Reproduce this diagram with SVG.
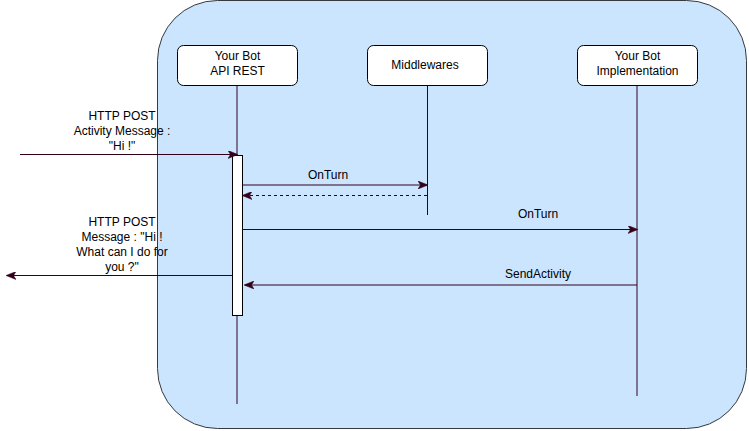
<svg xmlns="http://www.w3.org/2000/svg" width="749" height="431" viewBox="0 0 749 431">
<defs>
<style>
text{font-family:"Liberation Sans",Arial,sans-serif;font-size:12px;fill:#000;text-anchor:middle}
.node{fill:#fff;stroke:#000;stroke-width:1}
.life{stroke:#33001A;stroke-width:1;fill:none}
.msg{stroke:#33001A;stroke-width:1;fill:none}
.dash{stroke-dasharray:3 3}
</style>
<marker id="ah" viewBox="0 0 10 8" refX="9" refY="4" markerWidth="10" markerHeight="8" markerUnits="userSpaceOnUse" orient="auto">
<path d="M0,0 L10,4 L0,8 L2.5,4 Z" fill="#33001A" stroke="#33001A" stroke-width="0.5"/>
</marker>
</defs>
<rect id="container" x="157.5" y="0.5" width="589" height="428" rx="60" ry="60" fill="#cce5ff" stroke="#36393d" stroke-width="1"/>
<g id="lifelines">
<line class="life" x1="237" y1="85" x2="237" y2="404"/>
<line class="life" x1="427.5" y1="85" x2="427.5" y2="215"/>
<line class="life" x1="637" y1="85" x2="637" y2="396"/>
</g>
<g id="node-api">
<rect class="node" x="177.5" y="45.5" width="120" height="40" rx="6" ry="6"/>
<text x="237.5" y="60">Your Bot</text>
<text x="237.5" y="75">API REST</text>
</g>
<g id="node-middlewares">
<rect class="node" x="367.5" y="45.5" width="120" height="40" rx="6" ry="6"/>
<text x="425" y="69">Middlewares</text>
</g>
<g id="node-impl">
<rect class="node" x="577.5" y="45.5" width="120" height="40" rx="6" ry="6"/>
<text x="637.5" y="60">Your Bot</text>
<text x="637.5" y="75">Implementation</text>
</g>
<g id="activation">
<rect class="node" x="232.5" y="155.5" width="10" height="160"/>
</g>
<g id="connectors">
<line class="msg" x1="20" y1="154.5" x2="237" y2="154.5" marker-end="url(#ah)"/>
<line class="msg" x1="242.5" y1="185" x2="427" y2="185" marker-end="url(#ah)"/>
<line class="msg dash" x1="427" y1="195.5" x2="243" y2="195.5" marker-end="url(#ah)"/>
<line class="msg" x1="242.5" y1="229.5" x2="637" y2="229.5" marker-end="url(#ah)"/>
<line class="msg" x1="637" y1="285" x2="245" y2="285" marker-end="url(#ah)"/>
<line class="msg" x1="232" y1="275.5" x2="7" y2="275.5" marker-end="url(#ah)"/>
</g>
<g id="labels">
<text x="122" y="120">HTTP POST</text>
<text x="122" y="135">Activity Message :</text>
<text x="122" y="150">"Hi !"</text>
<text x="328" y="179">OnTurn</text>
<text x="538" y="218">OnTurn</text>
<text x="538" y="278">SendActivity</text>
<text x="122" y="226">HTTP POST</text>
<text x="122" y="241">Message : "Hi !</text>
<text x="122" y="256">What can I do for</text>
<text x="122" y="271">you ?"</text>
</g>
</svg>
